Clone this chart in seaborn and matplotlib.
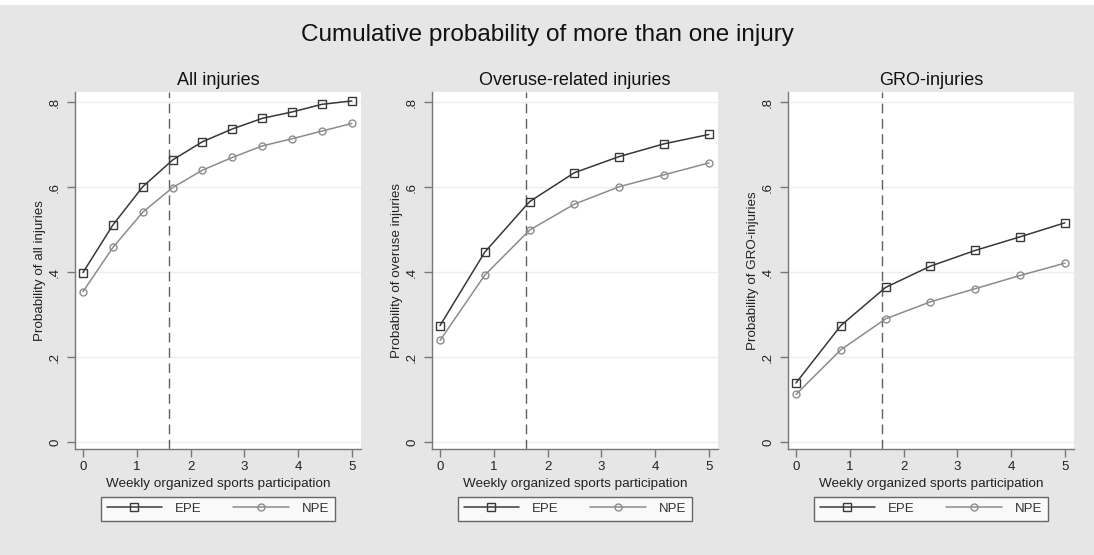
import numpy as np
import pandas as pd
import seaborn as sns
import matplotlib.pyplot as plt
from matplotlib.patches import Rectangle

# Data
x_all = [0, 0.556, 1.111, 1.667, 2.222, 2.778, 3.333, 3.889, 4.444, 5]
epe_all = [0.399, 0.511, 0.601, 0.664, 0.707, 0.737, 0.762, 0.777, 0.795, 0.803]
npe_all = [0.354, 0.458, 0.541, 0.599, 0.640, 0.670, 0.697, 0.714, 0.732, 0.750]

x_sub = [0, 0.833, 1.667, 2.5, 3.333, 4.167, 5]
epe_overuse = [0.274, 0.447, 0.566, 0.634, 0.672, 0.702, 0.724]
npe_overuse = [0.239, 0.393, 0.499, 0.560, 0.601, 0.629, 0.657]
epe_gro = [0.139, 0.274, 0.364, 0.414, 0.451, 0.483, 0.516]
npe_gro = [0.112, 0.217, 0.290, 0.330, 0.361, 0.392, 0.421]

panel_titles = ['All injuries', 'Overuse-related injuries', 'GRO-injuries']
y_labels = ['Probability of all injuries', 'Probability of overuse injuries',
            'Probability of GRO-injuries']
groups = ['EPE', 'NPE']
cutoff = 1.6
y_ticks = [0, 0.2, 0.4, 0.6, 0.8]
y_ticklabels = ['0', '.2', '.4', '.6', '.8']

panels = [
    (x_all, epe_all, npe_all),
    (x_sub, epe_overuse, npe_overuse),
    (x_sub, epe_gro, npe_gro),
]

sns.set_style('white')
plt.rcParams['font.family'] = ['Liberation Sans', 'DejaVu Sans']

W, H = 1094, 555
fig = plt.figure(figsize=(W / 100, H / 100), dpi=100, facecolor='white')
# gray background panel, white strip at top
fig.patches.append(Rectangle((0, 0), 1, 1 - 5 / H, transform=fig.transFigure,
                             facecolor='#e6e6e6', edgecolor='none', zorder=-10))

fig.text(0.5, 1 - 35 / H, 'Cumulative probability of more than one injury',
         ha='center', va='center', fontsize=17.5, color='#111111')

lefts = [75, 432, 788]
ax_w = 286
top, bottom = 92, 449

styles = {'EPE': dict(color='#383838', marker='s', ms=5.5),
          'NPE': dict(color='#8c8c8c', marker='o', ms=5)}

for i, (xs, epe, npe) in enumerate(panels):
    ax = fig.add_axes([lefts[i] / W, 1 - bottom / H, ax_w / W, (bottom - top) / H])
    ax.set_facecolor('white')
    df = pd.DataFrame({'x': xs * 2, 'y': epe + npe,
                       'group': ['EPE'] * len(xs) + ['NPE'] * len(xs)})
    for g in groups:
        st = styles[g]
        sns.lineplot(data=df[df['group'] == g], x='x', y='y', ax=ax,
                     color=st['color'], marker=st['marker'], markersize=st['ms'],
                     markerfacecolor='none', markeredgecolor=st['color'],
                     markeredgewidth=1.0, linewidth=1.1, label=g, zorder=3)
    ax.axvline(cutoff, color='#606060', linestyle=(0, (7, 4)), linewidth=1.0, zorder=2)

    ax.set_xlim(-0.149, 5.17)
    ax.set_ylim(-0.0165, 0.824)
    ax.set_xticks([0, 1, 2, 3, 4, 5])
    ax.set_yticks(y_ticks)
    ax.set_yticklabels(y_ticklabels, rotation=90, va='center')
    for yt in y_ticks:
        ax.axhline(yt, color='#e9f0f0', linewidth=1.0, zorder=1)

    for s in ['top', 'right']:
        ax.spines[s].set_visible(False)
    for s in ['left', 'bottom']:
        ax.spines[s].set_color('#777777')
        ax.spines[s].set_linewidth(1.0)
    ax.tick_params(axis='both', direction='out', length=6, width=1.0,
                   color='#777777', labelsize=9.5, labelcolor='#222222', pad=3,
                   bottom=True, left=True)
    ax.tick_params(axis='y', pad=4)

    ax.set_title(panel_titles[i], fontsize=13, color='#111111', pad=5)
    ax.set_xlabel('Weekly organized sports participation', fontsize=9.7,
                  color='#222222', labelpad=3)
    ax.set_ylabel(y_labels[i], fontsize=9.6, color='#222222', labelpad=2)

    leg = ax.legend(loc='upper center', bbox_to_anchor=(0.5, -0.134), ncol=2,
                    frameon=True, fancybox=False, fontsize=9.5, handlelength=4.2,
                    handletextpad=1.0, columnspacing=2.4, borderaxespad=0,
                    borderpad=0.45)
    leg.get_frame().set_edgecolor('#444444')
    leg.get_frame().set_linewidth(1.0)
    leg.get_frame().set_facecolor('white')
    for t in leg.get_texts():
        t.set_color('#333333')

fig.savefig('out.png', dpi=100, facecolor=fig.get_facecolor())
